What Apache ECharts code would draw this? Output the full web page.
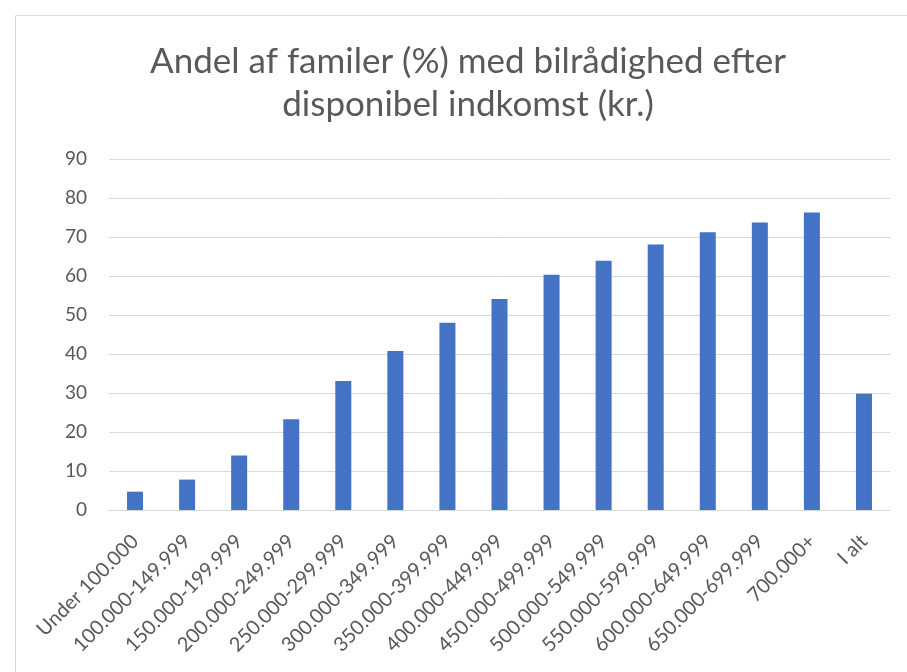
<!DOCTYPE html>
<html><head><meta charset="utf-8">
<script src="https://cdn.jsdelivr.net/npm/echarts@6/dist/echarts.min.js"></script>
<style>html,body{margin:0;padding:0;background:#fff}#c{width:907px;height:672px}</style>
</head><body><div id="c"></div>
<script>
const categories = ["Under 100.000","100.000-149.999","150.000-199.999","200.000-249.999","250.000-299.999","300.000-349.999","350.000-399.999","400.000-449.999","450.000-499.999","500.000-549.999","550.000-599.999","600.000-649.999","650.000-699.999","700.000+","I alt"];
const values = [4.7,7.8,14.0,23.3,33.1,40.8,48.0,54.1,60.3,63.9,68.1,71.2,73.7,76.3,29.8];
const titleText = "Andel af familer (%) med bilrådighed efter\ndisponibel indkomst (kr.)";

const chart = echarts.init(document.getElementById('c'), null, {renderer:'canvas'});
chart.setOption({
  animation:false,
  graphic:[{type:'rect',shape:{x:15.5,y:15.5,width:900,height:700},style:{fill:null,stroke:'#d9d9d9',lineWidth:1},silent:true}],
  title:{text:titleText,left:463,top:35,textAlign:'center',textStyle:{fontFamily:'Lato',fontSize:35,fontWeight:'normal',color:'#595959',lineHeight:43}},
  grid:{left:109,right:17,top:159,bottom:162},
  xAxis:{type:'category',data:categories,
    axisLine:{show:true,lineStyle:{color:'#d9d9d9'}},axisTick:{show:false},
    axisLabel:{rotate:45,interval:0,color:'#595959',fontFamily:'Lato',fontSize:20,margin:28}},
  yAxis:{type:'value',min:0,max:90,interval:10,
    axisLine:{show:false},axisTick:{show:false},
    splitLine:{lineStyle:{color:'#d9d9d9'}},
    axisLabel:{color:'#595959',fontFamily:'Lato',fontSize:19,margin:22}},
  series:[{type:'bar',data:values,barWidth:16,itemStyle:{color:'#4472c4'}}]
});
</script></body></html>
